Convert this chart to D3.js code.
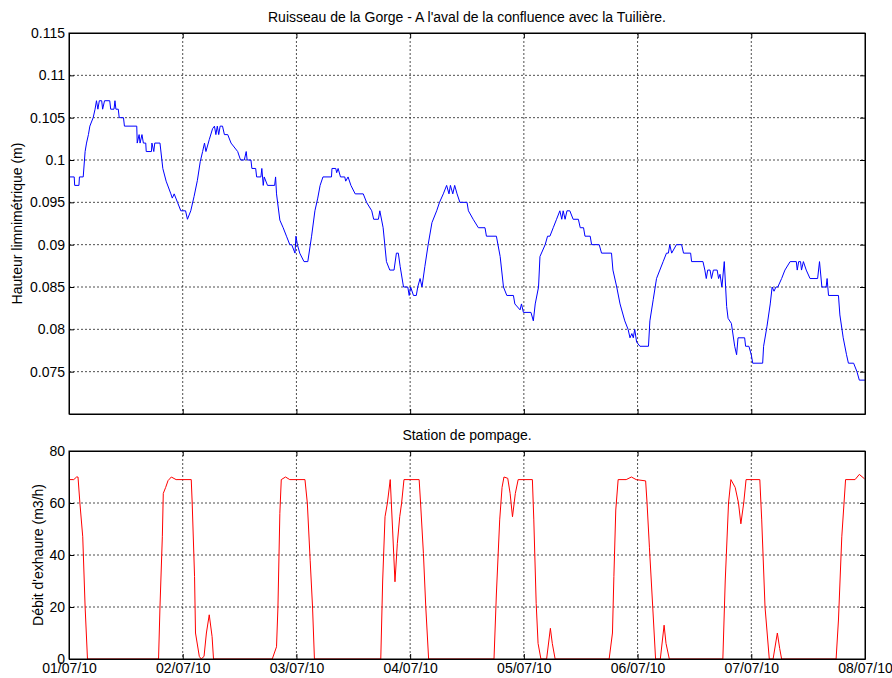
<!DOCTYPE html>
<html>
<head>
<meta charset="utf-8">
<script src="https://cdn.jsdelivr.net/npm/d3@7"></script>
<style>
  body { margin: 0; background: #fff; }
  svg text { font-family: "Liberation Sans", Arial, sans-serif; fill: #000; }
</style>
</head>
<body>
<div id="chart"></div>
<script>
const width = 892;
const height = 678;

// hours since 01/07/10 00:00
const dayHours = [0, 24, 48, 72, 96, 120, 144, 168];
const dayLabels = ["01/07/10", "02/07/10", "03/07/10", "04/07/10", "05/07/10", "06/07/10", "07/07/10", "08/07/10"];

const heightTicks = [0.075, 0.08, 0.085, 0.09, 0.095, 0.1, 0.105, 0.11, 0.115];
const flowTicks = [0, 20, 40, 60, 80];

// Hauteur limnimétrique (m): [hour, value]
const heightSeries = [
  [0,0.098],[1.1,0.098],[1.2,0.097],[2.1,0.097],[2.2,0.098],[3,0.098],[3.4,0.101],[3.7,0.102],[4.1,0.103],
  [4.4,0.104],[5.1,0.105],[5.5,0.106],[5.8,0.107],[6.1,0.106],[6.4,0.107],[6.9,0.107],[7.1,0.106],[7.5,0.107],
  [8.6,0.107],[8.8,0.106],[9.5,0.106],[9.7,0.107],[9.9,0.106],[10.4,0.106],[10.6,0.105],[11.5,0.105],[11.7,0.104],
  [14.3,0.104],[14.4,0.102],[14.8,0.103],[15.0,0.102],[15.4,0.103],[15.7,0.102],[16.2,0.102],[16.3,0.101],
  [17.4,0.101],[17.5,0.102],[17.9,0.101],[18.1,0.102],[19.2,0.102],[19.8,0.099],[20.5,0.0975],[21.5,0.096],
  [21.8,0.0955],[22.2,0.096],[22.9,0.095],[23.6,0.094],[24.6,0.094],[25.0,0.093],[25.7,0.094],[26.4,0.0957],
  [27.1,0.0976],[27.7,0.0998],[28.2,0.101],[28.6,0.102],[28.9,0.101],[29.6,0.1024],[30.3,0.1037],[30.7,0.104],
  [31.0,0.103],[31.3,0.104],[31.6,0.103],[31.9,0.104],[32.4,0.104],[32.8,0.103],[33.5,0.103],[34.2,0.102],
  [35.6,0.101],[36.2,0.1],[37,0.1],[37.4,0.101],[37.6,0.1],[38.4,0.1],[38.6,0.099],[39.4,0.099],[39.6,0.098],
  [40.5,0.098],[40.7,0.099],[41.0,0.097],[41.2,0.098],[41.9,0.097],[43.4,0.097],[43.6,0.098],[43.8,0.096],
  [44.5,0.0929],[45.2,0.092],[45.9,0.091],[46.6,0.090],[47.0,0.090],[47.7,0.089],[47.9,0.091],[48.2,0.090],
  [48.7,0.089],[49.6,0.088],[50.4,0.088],[51.2,0.091],[51.9,0.094],[52.5,0.0955],[53,0.097],[53.6,0.098],
  [55.4,0.098],[55.5,0.099],[56.3,0.099],[56.5,0.0985],[56.8,0.099],[57.3,0.098],[58.2,0.098],[58.4,0.0975],
  [58.9,0.098],[59.5,0.097],[60.4,0.096],[62.1,0.096],[62.8,0.095],[63.9,0.094],[64.3,0.093],[65.3,0.093],
  [65.6,0.094],[66.3,0.092],[67,0.088],[67.7,0.087],[68.6,0.087],[69.1,0.089],[69.5,0.089],[69.9,0.0874],
  [70.6,0.085],[71.5,0.085],[71.8,0.084],[72.1,0.085],[72.7,0.084],[73.3,0.084],[73.6,0.085],[74.1,0.086],
  [74.5,0.085],[75.1,0.0874],[75.8,0.090],[76.6,0.0926],[77.6,0.094],[78.2,0.095],[79,0.096],[79.7,0.097],
  [80.2,0.096],[80.5,0.097],[81.0,0.096],[81.4,0.097],[81.9,0.096],[82.5,0.095],[84,0.095],[84.3,0.094],
  [85.3,0.093],[86.4,0.092],[87.8,0.092],[88.1,0.091],[90.2,0.091],[91,0.0886],[91.7,0.085],[92.4,0.084],
  [93.8,0.084],[94.1,0.083],[95.2,0.0823],[95.5,0.083],[95.9,0.082],[97.5,0.082],[98,0.081],[98.4,0.083],
  [99.1,0.085],[99.4,0.0886],[100.5,0.090],[101,0.091],[101.5,0.091],[102.2,0.092],[102.9,0.093],[103.6,0.094],
  [104.0,0.093],[104.3,0.094],[104.7,0.093],[105.1,0.094],[105.7,0.094],[106.4,0.093],[107.5,0.093],
  [107.9,0.092],[108.6,0.092],[108.9,0.091],[110.0,0.091],[110.3,0.090],[111.9,0.090],[112.4,0.089],
  [114.5,0.089],[114.8,0.087],[115.6,0.085],[116.3,0.083],[117.3,0.081],[118,0.080],[118.4,0.079],
  [118.8,0.0795],[119.1,0.079],[119.4,0.080],[119.8,0.0785],[120.5,0.078],[122.3,0.078],[122.6,0.081],
  [123.3,0.0835],[124,0.086],[124.7,0.087],[125.4,0.088],[126.1,0.089],[126.5,0.089],[126.8,0.090],
  [127.2,0.089],[128.2,0.090],[129.3,0.090],[129.7,0.089],[131.2,0.089],[131.4,0.088],[133.8,0.088],
  [134.2,0.087],[134.5,0.086],[134.8,0.087],[135.3,0.087],[135.6,0.086],[136.0,0.087],[136.8,0.087],
  [137.1,0.086],[137.4,0.0865],[137.8,0.085],[138.3,0.088],[138.8,0.0827],[139.1,0.0813],[139.8,0.0807],
  [140.5,0.078],[140.9,0.077],[141.2,0.079],[142.6,0.079],[142.8,0.078],[143.5,0.078],[144,0.077],[144.3,0.076],
  [146.4,0.076],[146.6,0.078],[147.3,0.0803],[148,0.083],[148.4,0.085],[148.8,0.0845],[149.2,0.085],
  [149.6,0.085],[150.4,0.086],[151.1,0.087],[152.2,0.088],[153.5,0.088],[153.7,0.087],[154.0,0.088],
  [154.4,0.088],[154.6,0.087],[155,0.088],[155.6,0.087],[156.4,0.086],[158,0.086],[158.4,0.088],[158.9,0.085],
  [159.8,0.085],[160.0,0.086],[160.3,0.084],[162.4,0.084],[162.7,0.0817],[163.4,0.079],[164.1,0.077],
  [164.5,0.076],[165.6,0.076],[166.3,0.075],[166.8,0.074],[168,0.074]
];

// Débit d'exhaure (m3/h): [hour, value]
const flowSeries = [
  [0,69],[1,69],[1.6,70],[1.9,70],[2.3,60],[2.9,47],[3.4,20],[3.9,0],
  [18.9,0],[19.2,20],[19.7,47],[19.9,63.7],[20.4,66],[20.9,68.6],[21.6,70],[22.6,69],[25.8,69],[26,60],
  [26.5,31.7],[26.7,10],[27.5,1],[27.9,0],[28.5,1],[29,10],[29.6,17],[30.2,8.6],[30.5,0],
  [42.9,0],[43.8,4.7],[44.1,20],[44.5,56],[44.8,69],[45.7,70],[46.6,69],[49.8,69],[50.3,60],[50.9,38],
  [51.4,20],[51.8,0],
  [65.8,0],[66.2,30],[66.7,54.7],[67.2,60],[67.8,69],[68.3,49.6],[68.8,29.7],[69.3,44.5],[69.8,54.7],
  [70.2,60],[70.7,69],[73.9,69],[74.2,60],[74.8,40.6],[75.3,20],[75.9,0],
  [89.7,0],[90.2,25],[90.9,53.5],[91.4,66],[91.8,70],[92.6,69.5],[93.1,63.7],[93.6,54.7],[94.2,63.7],
  [94.8,69],[97.8,69],[98.1,53.5],[98.6,21.4],[99,6],[99.6,0],[100.8,0],[101.6,11.8],[102,6],[102.6,0],
  [114,0],[114.7,10],[115,31.7],[115.4,57.3],[115.9,69],[117.6,69],[118.7,70],[119.7,69],[121.7,68.5],
  [122,60],[122.5,43],[123.2,20],[123.8,0],[124.8,0],[125.6,13],[126,6],[126.7,0],
  [138,0],[138.5,30],[139.2,60],[139.7,69],[140.6,66],[141.3,60],[141.8,52],[142.4,60],[142.9,69],
  [145.8,69],[146.2,53.5],[146.9,20],[147.8,0],[148.6,0],[149.5,10],[150,4],[150.4,0],
  [161.9,0],[162.4,15],[163.1,47],[163.9,69],[165.9,69],[166.8,71],[167.9,69.3]
];

const svg = d3.select("#chart").append("svg")
  .attr("width", width)
  .attr("height", height);

const x = d3.scaleLinear().domain([0, 168]).range([69, 865]);
const yHeight = d3.scaleLinear().domain([0.07, 0.115]).range([414, 33]);
const yFlow = d3.scaleLinear().domain([0, 80]).range([659, 451]);

function drawPanel(y, ticks, fmt, series, color, title, ylabel, ylabelX, showDates) {
  const top = y.range()[1], bottom = y.range()[0];
  const left = x.range()[0], right = x.range()[1];
  const g = svg.append("g");

  // grid
  g.append("g").selectAll("line").data(ticks.filter(t => t > y.domain()[0] && t < y.domain()[1]))
    .join("line")
    .attr("x1", left).attr("x2", right)
    .attr("y1", d => y(d)).attr("y2", d => y(d))
    .attr("stroke", "#222").attr("stroke-width", 0.8).attr("stroke-dasharray", "2,2");
  g.append("g").selectAll("line").data(dayHours.slice(1, -1))
    .join("line")
    .attr("x1", d => x(d)).attr("x2", d => x(d))
    .attr("y1", top).attr("y2", bottom)
    .attr("stroke", "#222").attr("stroke-width", 0.8).attr("stroke-dasharray", "2,2");

  // data line
  g.append("path")
    .datum(series)
    .attr("fill", "none")
    .attr("stroke", color)
    .attr("stroke-width", 1)
    .attr("d", d3.line().x(d => x(d[0])).y(d => y(d[1])));

  // axes (MATLAB style: ticks inward on all sides)
  const ax = d3.axisLeft(y).tickValues(ticks).tickFormat(fmt).tickSizeInner(-5).tickSizeOuter(0).tickPadding(4);
  const la = g.append("g").attr("transform", `translate(${left},0)`).call(ax);
  la.selectAll("text").attr("font-size", 14);
  g.append("g").attr("transform", `translate(${right},0)`)
    .call(d3.axisRight(y).tickValues(ticks).tickFormat("").tickSizeInner(-5).tickSizeOuter(0));

  const bx = d3.axisBottom(x).tickValues(dayHours).tickSizeInner(-5).tickSizeOuter(0).tickPadding(4)
    .tickFormat((d, i) => showDates ? dayLabels[i] : "");
  const ba = g.append("g").attr("transform", `translate(0,${bottom})`).call(bx);
  ba.selectAll("text").attr("font-size", 14);
  g.append("g").attr("transform", `translate(0,${top})`)
    .call(d3.axisTop(x).tickValues(dayHours).tickFormat("").tickSizeInner(-5).tickSizeOuter(0));

  g.selectAll(".domain").attr("stroke", "#000");
  g.selectAll(".tick line").attr("stroke", "#000");

  g.append("rect")
    .attr("x", left).attr("y", top)
    .attr("width", right - left).attr("height", bottom - top)
    .attr("fill", "none").attr("stroke", "#000").attr("stroke-width", 1);

  g.append("text")
    .attr("x", (left + right) / 2).attr("y", top - 11)
    .attr("text-anchor", "middle").attr("font-size", 14)
    .text(title);

  g.append("text")
    .attr("transform", `translate(${ylabelX},${(top + bottom) / 2}) rotate(-90)`)
    .attr("text-anchor", "middle").attr("font-size", 14)
    .text(ylabel);
}

drawPanel(yHeight, heightTicks, d => String(+d.toFixed(3)), heightSeries, "#0000ff",
  "Ruisseau de la Gorge - A l'aval de la confluence avec la Tuilière.",
  "Hauteur limnimétrique (m)", 22, false);

drawPanel(yFlow, flowTicks, d => String(d), flowSeries, "#ff0000",
  "Station de pompage.",
  "Débit d'exhaure (m3/h)", 43, true);
</script>
</body>
</html>
